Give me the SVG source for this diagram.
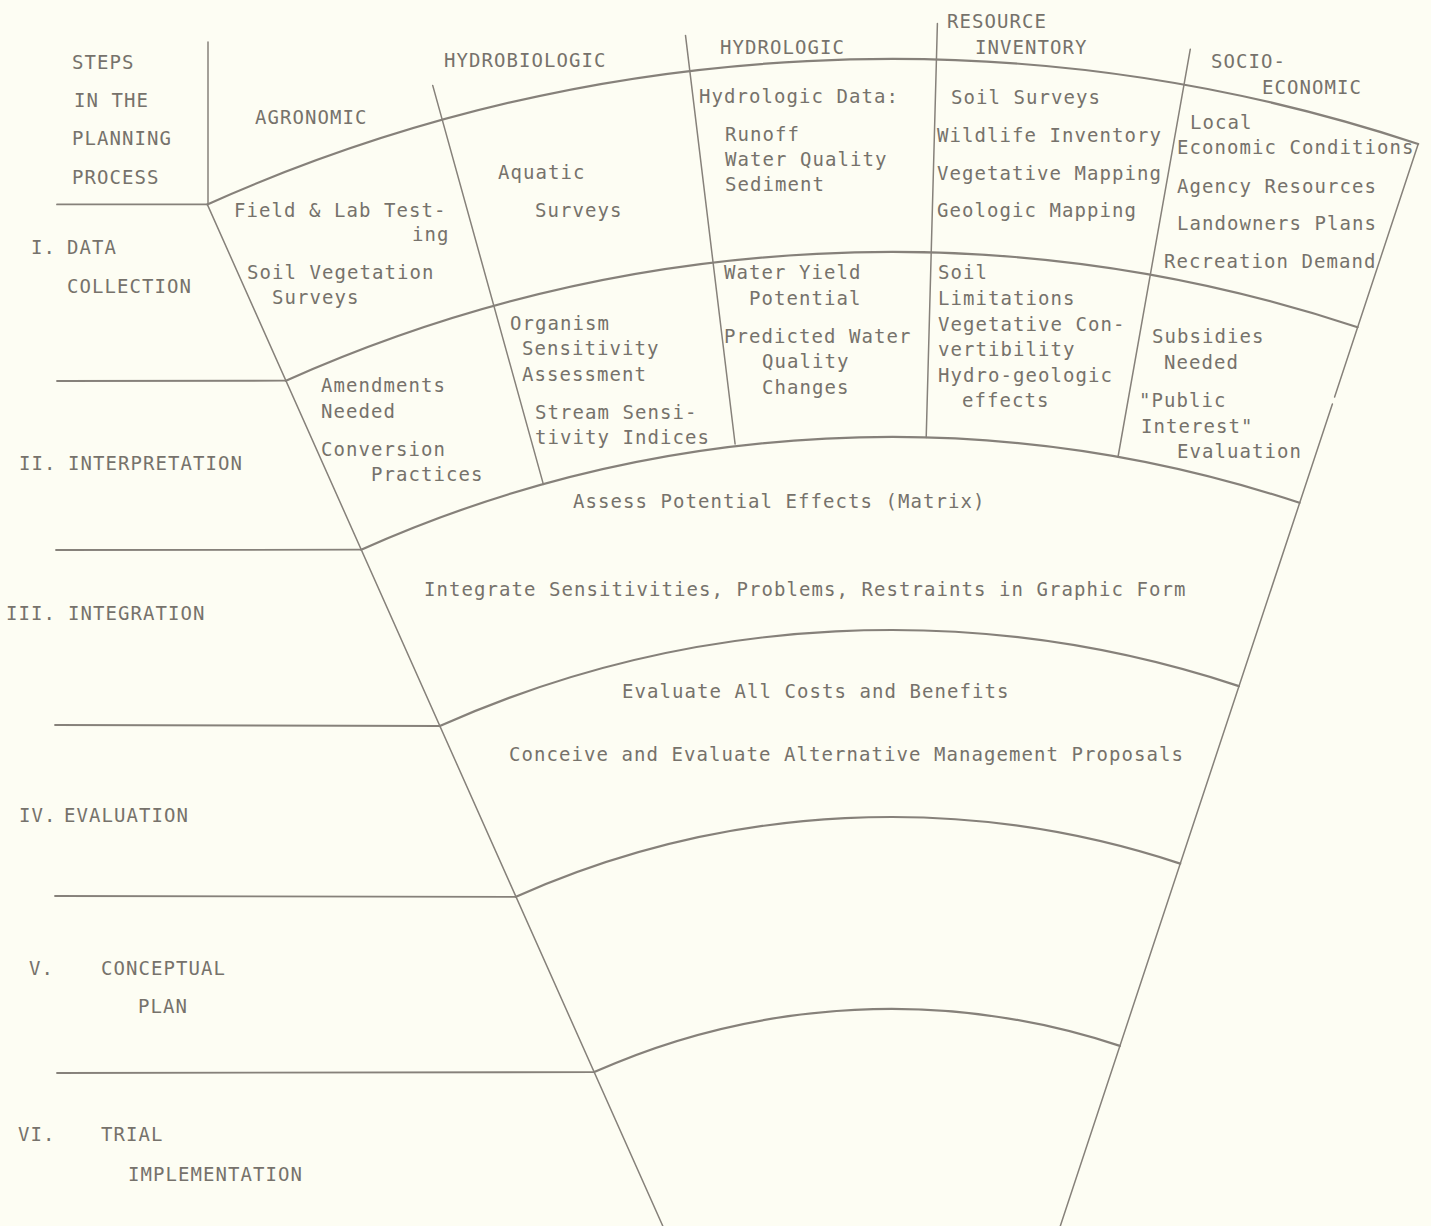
<svg xmlns="http://www.w3.org/2000/svg" width="1431" height="1226" viewBox="0 0 1431 1226">
<style>
.bg{fill:#fdfdf3}
.arc{fill:none;stroke:#86817a;stroke-width:2.2;stroke-linecap:round}
.rad{fill:none;stroke:#86817a;stroke-width:1.5;stroke-linecap:round}
.hz{fill:none;stroke:#86817a;stroke-width:1.8;stroke-linecap:round}
text{font-family:"DejaVu Sans Mono","Liberation Mono",monospace;font-size:19px;letter-spacing:1.06px;fill:#76726b}
</style>
<rect class="bg" x="0" y="0" width="1431" height="1226"/>
<g id="connectors">
  <line class="rad" x1="208" y1="42" x2="208" y2="204.4"/>
  <line class="hz" x1="57" y1="204.4" x2="207.3" y2="204.4"/>
  <line class="hz" x1="57" y1="381" x2="285.9" y2="380.7"/>
  <line class="hz" x1="56" y1="550" x2="361.2" y2="549.7"/>
  <line class="hz" x1="55" y1="725" x2="439.8" y2="726"/>
  <line class="hz" x1="55" y1="896" x2="516" y2="896.8"/>
  <line class="hz" x1="57" y1="1073" x2="594.2" y2="1072.1"/>
  <line class="rad" x1="207.3" y1="204.4" x2="662.8" y2="1226"/>
  <line class="rad" x1="1418.2" y1="144" x2="1334.6" y2="397"/>
  <line class="rad" x1="1332.4" y1="404" x2="1060.3" y2="1226"/>
  <path class="arc" d="M207.3,204.4 A1679,1679 0 0 1 1418.2,144"/>
  <path class="arc" d="M285.9,380.7 A1486,1486 0 0 1 1357.6,327.2"/>
  <path class="arc" d="M361.2,549.7 A1301,1301 0 0 1 1299.5,502.8"/>
  <path class="arc" d="M439.8,726 A1108,1108 0 0 1 1238.9,686.1"/>
  <path class="arc" d="M516,896.8 A921,921 0 0 1 1180.2,863.6"/>
  <path class="arc" d="M594.2,1072.1 A729,729 0 0 1 1119.9,1045.9"/>
  <line class="rad" x1="432.7" y1="85.4" x2="543.4" y2="484.4"/>
  <line class="rad" x1="685.5" y1="35.4" x2="735.1" y2="444"/>
  <line class="rad" x1="937.4" y1="23.6" x2="926.2" y2="437.5"/>
  <line class="rad" x1="1190.3" y1="49.2" x2="1118" y2="457"/>
</g>
<g id="steps-header">
  <text x="72" y="69">STEPS</text>
  <text x="74" y="107">IN THE</text>
  <text x="72" y="145">PLANNING</text>
  <text x="72" y="184">PROCESS</text>
</g>
<g id="step-1">
  <text x="31" y="254">I.</text>
  <text x="67" y="254">DATA</text>
  <text x="67" y="293">COLLECTION</text>
</g>
<g id="step-2">
  <text x="19" y="470">II.</text>
  <text x="68" y="470">INTERPRETATION</text>
</g>
<g id="step-3">
  <text x="6" y="620">III.</text>
  <text x="68" y="620">INTEGRATION</text>
</g>
<g id="step-4">
  <text x="19" y="822">IV.</text>
  <text x="64" y="822">EVALUATION</text>
</g>
<g id="step-5">
  <text x="29" y="975">V.</text>
  <text x="101" y="975">CONCEPTUAL</text>
  <text x="138" y="1013">PLAN</text>
</g>
<g id="step-6">
  <text x="18" y="1141">VI.</text>
  <text x="101" y="1141">TRIAL</text>
  <text x="128" y="1181">IMPLEMENTATION</text>
</g>
<g id="col-agronomic">
  <text x="255" y="124">AGRONOMIC</text>
</g>
<g id="col-hydrobiologic">
  <text x="444" y="67">HYDROBIOLOGIC</text>
</g>
<g id="col-hydrologic">
  <text x="720" y="54">HYDROLOGIC</text>
</g>
<g id="col-resource">
  <text x="947" y="28">RESOURCE</text>
  <text x="975" y="54">INVENTORY</text>
</g>
<g id="col-socio">
  <text x="1211" y="68">SOCIO-</text>
  <text x="1262" y="94">ECONOMIC</text>
</g>
<g id="agro-data">
  <text x="234" y="217">Field &amp; Lab Test-</text>
  <text x="412" y="241">ing</text>
  <text x="247" y="279">Soil Vegetation</text>
  <text x="272" y="304">Surveys</text>
</g>
<g id="agro-interp">
  <text x="321" y="392">Amendments</text>
  <text x="321" y="418">Needed</text>
  <text x="321" y="456">Conversion</text>
  <text x="371" y="481">Practices</text>
</g>
<g id="hydrobio-data">
  <text x="498" y="179">Aquatic</text>
  <text x="535" y="217">Surveys</text>
</g>
<g id="hydrobio-interp">
  <text x="510" y="330">Organism</text>
  <text x="522" y="355">Sensitivity</text>
  <text x="522" y="381">Assessment</text>
  <text x="535" y="419">Stream Sensi-</text>
  <text x="535" y="444">tivity Indices</text>
</g>
<g id="hydro-data">
  <text x="699" y="103">Hydrologic Data:</text>
  <text x="725" y="141">Runoff</text>
  <text x="725" y="166">Water Quality</text>
  <text x="725" y="191">Sediment</text>
</g>
<g id="hydro-interp">
  <text x="724" y="279">Water Yield</text>
  <text x="749" y="305">Potential</text>
  <text x="724" y="343">Predicted Water</text>
  <text x="762" y="368">Quality</text>
  <text x="762" y="394">Changes</text>
</g>
<g id="resource-data">
  <text x="951" y="104">Soil Surveys</text>
  <text x="937" y="142">Wildlife Inventory</text>
  <text x="937" y="180">Vegetative Mapping</text>
  <text x="937" y="217">Geologic Mapping</text>
</g>
<g id="resource-interp">
  <text x="938" y="279">Soil</text>
  <text x="938" y="305">Limitations</text>
  <text x="938" y="331">Vegetative Con-</text>
  <text x="938" y="356">vertibility</text>
  <text x="938" y="382">Hydro-geologic</text>
  <text x="962" y="407">effects</text>
</g>
<g id="socio-data">
  <text x="1190" y="129">Local</text>
  <text x="1177" y="154">Economic Conditions</text>
  <text x="1177" y="193">Agency Resources</text>
  <text x="1177" y="230">Landowners Plans</text>
  <text x="1164" y="268">Recreation Demand</text>
</g>
<g id="socio-interp">
  <text x="1152" y="343">Subsidies</text>
  <text x="1164" y="369">Needed</text>
  <text x="1139" y="407">"Public</text>
  <text x="1141" y="433">Interest"</text>
  <text x="1177" y="458">Evaluation</text>
</g>
<g id="band-assess">
  <text x="573" y="508">Assess Potential Effects (Matrix)</text>
</g>
<g id="band-integrate">
  <text x="424" y="596">Integrate Sensitivities, Problems, Restraints in Graphic Form</text>
</g>
<g id="band-evaluate">
  <text x="622" y="698">Evaluate All Costs and Benefits</text>
  <text x="509" y="761">Conceive and Evaluate Alternative Management Proposals</text>
</g>
</svg>
